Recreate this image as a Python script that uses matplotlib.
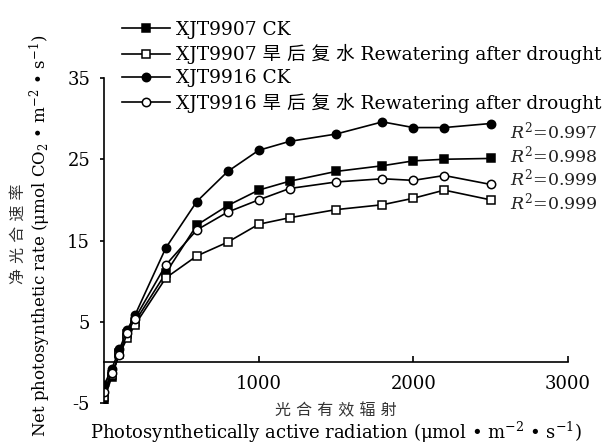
import matplotlib
matplotlib.use("Agg")
import matplotlib.pyplot as plt

# the scanned figure uses wide serif glyphs, DejaVu Serif is the closest in width
plt.rcParams['font.family'] = ['DejaVu Serif', 'Noto Sans CJK SC']
plt.rcParams['mathtext.fontset'] = 'dejavuserif'
plt.rcParams['axes.unicode_minus'] = False

# PAR levels (umol m-2 s-1)
par = [0, 50, 100, 150, 200, 400, 600, 800, 1000, 1200, 1500, 1800, 2000, 2200, 2500]

# net photosynthetic rate
ck_9907 = [-4.6, -1.8, 1.2, 3.5, 5.0, 11.0, 16.9, 19.3, 21.2, 22.3, 23.5, 24.2, 24.8, 25.0, 25.1]
rw_9907 = [-4.2, -1.5, 1.0, 3.0, 4.6, 10.4, 13.1, 14.8, 17.0, 17.8, 18.8, 19.4, 20.2, 21.2, 20.0]
ck_9916 = [-2.8, -0.8, 1.6, 4.0, 5.8, 14.1, 19.8, 23.5, 26.1, 27.2, 28.1, 29.6, 28.9, 28.9, 29.4]
rw_9916 = [-3.6, -1.3, 0.9, 3.6, 5.4, 12.0, 16.3, 18.5, 20.0, 21.4, 22.2, 22.6, 22.4, 23.0, 21.9]

labels = ["XJT9907 CK", "XJT9907 旱 后 复 水 Rewatering after drought",
          "XJT9916 CK", "XJT9916 旱 后 复 水 Rewatering after drought"]
r2 = ["0.997", "0.998", "0.999", "0.999"]

W, H = 615, 445
fig = plt.figure(figsize=(6.15, 4.45), dpi=100)
ax = fig.add_axes([104 / W, 1 - 403 / H, 464 / W, 325 / H])

kw = dict(color='black', lw=1.2, ms=6, mew=1.1)
l1, = ax.plot(par, ck_9907, marker='s', mfc='black', label=labels[0], **kw)
l2, = ax.plot(par, rw_9907, marker='s', mfc='white', label=labels[1], **kw)
l3, = ax.plot(par, ck_9916, marker='o', mfc='black', label=labels[2], **kw)
l4, = ax.plot(par, rw_9916, marker='o', mfc='white', label=labels[3], **kw)

ax.set_xlim(0, 3000)
ax.set_ylim(-5, 35)
ax.spines['top'].set_visible(False)
ax.spines['right'].set_visible(False)
ax.spines['bottom'].set_position(('data', 0))
for s in ('left', 'bottom'):
    ax.spines[s].set_linewidth(1.2)
ax.set_xticks([1000, 2000, 3000])
ax.set_yticks([-5, 5, 15, 25, 35])
ax.tick_params(axis='x', direction='in', length=4, width=1.2, pad=9, labelsize=13)
ax.tick_params(axis='y', direction='out', length=3, width=1.2, pad=7, labelsize=13)

leg = fig.legend(handles=[l1, l2, l3, l4], loc='upper left',
                 bbox_to_anchor=(122 / W, 1 - 21 / H), frameon=False,
                 fontsize=13.4, handlelength=2.6, handletextpad=0.3,
                 labelspacing=0.28, borderpad=0, borderaxespad=0)

r2_y = [131, 155, 178, 202]
for val, yy in zip(r2, r2_y):
    fig.text(510 / W, 1 - yy / H, "$R^2$=" + val, fontsize=12.5,
             ha='left', va='center', color='#222222')

fig.text(336 / W, 1 - 411 / H, "光 合 有 效 辐 射", fontsize=11.5,
         ha='center', va='center', color='#333333')
fig.text(336 / W, 1 - 432 / H,
         r"Photosynthetically active radiation (μmol • m$^{-2}$ • s$^{-1}$)",
         fontsize=13, ha='center', va='center')
fig.text(18 / W, 1 - 234 / H, "净 光 合 速 率", fontsize=11.5, rotation=90,
         ha='center', va='center', color='#333333')
fig.text(40 / W, 1 - 236 / H,
         r"Net photosynthetic rate (μmol CO$_2$ • m$^{-2}$ • s$^{-1}$)",
         fontsize=12, rotation=90, ha='center', va='center')

fig.savefig("out.png", dpi=100)
